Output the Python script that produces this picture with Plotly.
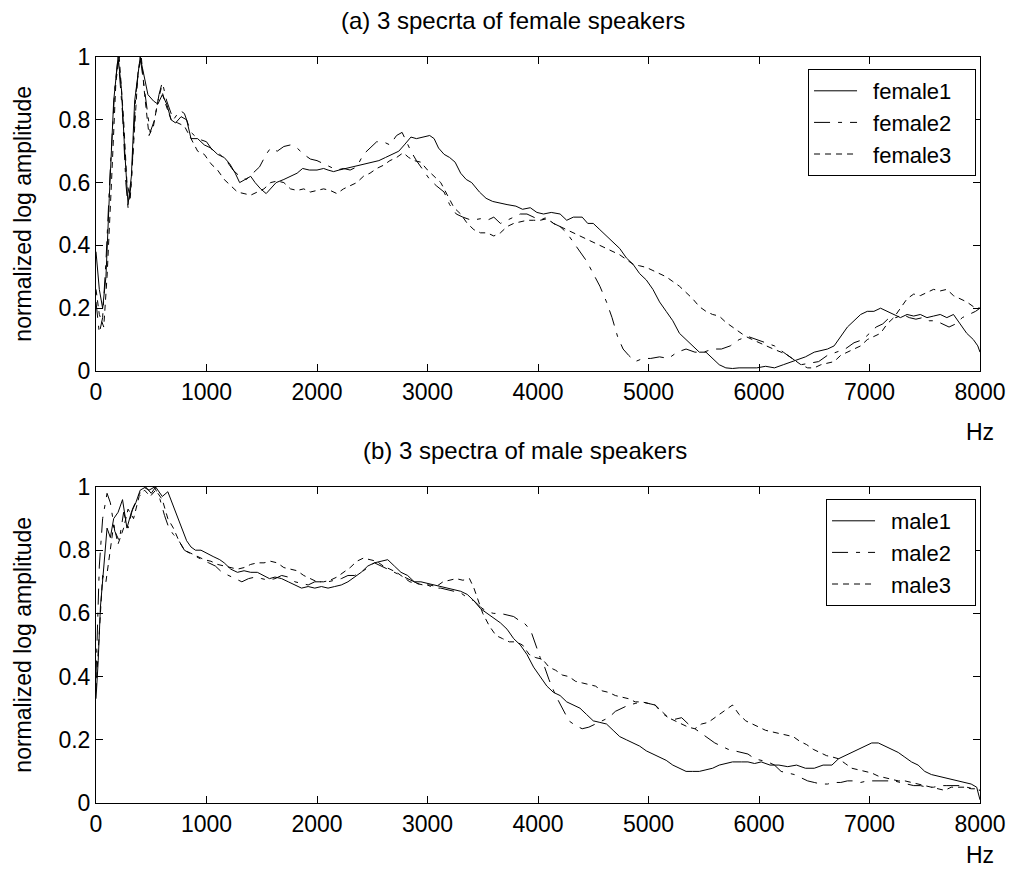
import plotly.graph_objects as go

# ---------------- data (Hz, normalized log amplitude) ----------------
female1 = [(0,0.38),(30,0.26),(60,0.2),(90,0.3),(120,0.55),(160,0.86),(200,1.0),(230,0.9),(260,0.7),(290,0.53),
 (320,0.62),(350,0.86),(400,1.0),(430,0.95),(470,0.88),(520,0.86),(560,0.85),(600,0.88),(640,0.85),(680,0.8),
 (720,0.79),(770,0.81),(820,0.8),(860,0.74),(920,0.74),(980,0.72),(1040,0.71),(1100,0.69),(1160,0.68),(1210,0.66),
 (1260,0.63),(1300,0.6),(1350,0.61),(1400,0.62),(1440,0.6),(1490,0.58),(1540,0.565),(1580,0.58),(1630,0.6),(1700,0.61),
 (1760,0.62),(1820,0.63),(1870,0.645),(1930,0.64),(2000,0.64),(2060,0.645),(2100,0.64),(2150,0.635),(2200,0.64),(2260,0.645),
 (2320,0.65),(2380,0.655),(2440,0.66),(2500,0.665),(2560,0.67),(2620,0.68),(2680,0.69),(2740,0.7),(2790,0.72),(2850,0.745),
 (2900,0.74),(2960,0.745),(3020,0.75),(3060,0.74),(3100,0.71),(3150,0.69),(3200,0.68),(3250,0.665),(3300,0.63),(3350,0.61),
 (3400,0.6),(3470,0.57),(3530,0.55),(3590,0.54),(3650,0.535),(3720,0.53),(3800,0.525),(3860,0.515),(3930,0.52),(3990,0.505),
 (4050,0.5),(4120,0.505),(4200,0.5),(4260,0.48),(4320,0.49),(4400,0.49),(4450,0.47),(4500,0.47),(4560,0.45),(4620,0.43),
 (4680,0.41),(4740,0.39),(4800,0.36),(4860,0.34),(4920,0.31),(4980,0.29),(5040,0.26),(5100,0.22),(5160,0.19),(5220,0.16),
 (5280,0.12),(5340,0.1),(5400,0.08),(5460,0.06),(5520,0.06),(5580,0.04),(5640,0.02),(5700,0.01),(5760,0.008),(5820,0.01),
 (5900,0.01),(5980,0.01),(6060,0.015),(6140,0.01),(6220,0.02),(6300,0.03),(6360,0.035),(6420,0.045),(6500,0.06),(6560,0.065),
 (6620,0.07),(6680,0.08),(6740,0.11),(6800,0.14),(6860,0.16),(6920,0.18),(6980,0.19),(7040,0.19),(7100,0.2),(7160,0.19),
 (7220,0.18),(7280,0.17),(7340,0.18),(7400,0.175),(7460,0.18),(7520,0.17),(7580,0.175),(7640,0.18),(7700,0.17),(7760,0.18),
 (7820,0.15),(7880,0.12),(7940,0.1),(7980,0.08),(8000,0.06)]

female2 = [(0,0.22),(30,0.12),(60,0.17),(90,0.35),(130,0.65),(170,0.9),(200,1.0),(240,0.82),(270,0.6),(290,0.52),
 (320,0.6),(360,0.88),(400,1.0),(440,0.9),(490,0.76),(530,0.8),(570,0.88),(600,0.92),(640,0.86),(700,0.8),
 (760,0.83),(800,0.82),(860,0.76),(920,0.74),(1000,0.73),(1060,0.7),(1120,0.69),(1180,0.67),(1240,0.64),(1300,0.62),
 (1360,0.61),(1420,0.63),(1480,0.65),(1540,0.69),(1580,0.71),(1640,0.7),(1700,0.715),(1760,0.72),(1820,0.71),(1880,0.69),
 (1940,0.675),(2000,0.67),(2060,0.66),(2120,0.65),(2180,0.64),(2240,0.645),(2300,0.64),(2360,0.65),(2420,0.69),(2480,0.71),
 (2540,0.73),(2600,0.73),(2660,0.72),(2720,0.75),(2770,0.76),(2810,0.73),(2850,0.7),(2900,0.67),(2960,0.64),(3020,0.61),
 (3080,0.59),(3150,0.57),(3200,0.53),(3260,0.5),(3320,0.49),(3400,0.48),(3480,0.485),(3540,0.48),(3600,0.49),(3660,0.47),
 (3720,0.48),(3780,0.49),(3840,0.5),(3900,0.5),(3960,0.49),(4020,0.48),(4080,0.49),(4140,0.47),(4200,0.46),(4260,0.44),
 (4320,0.41),(4380,0.38),(4440,0.35),(4500,0.31),(4560,0.27),(4620,0.22),(4670,0.17),(4720,0.11),(4770,0.07),(4820,0.05),
 (4880,0.03),(4950,0.04),(5020,0.04),(5100,0.045),(5180,0.04),(5260,0.06),(5340,0.07),(5420,0.06),(5500,0.06),(5580,0.07),
 (5660,0.07),(5740,0.08),(5820,0.1),(5900,0.11),(5980,0.1),(6060,0.09),(6140,0.08),(6220,0.06),(6300,0.04),(6380,0.02),
 (6460,0.025),(6540,0.03),(6620,0.05),(6700,0.06),(6780,0.07),(6860,0.09),(6940,0.1),(7000,0.12),(7060,0.14),(7120,0.15),
 (7180,0.17),(7240,0.17),(7300,0.18),(7360,0.17),(7420,0.165),(7480,0.17),(7540,0.16),(7600,0.16),(7660,0.15),(7720,0.14),
 (7780,0.15),(7840,0.17),(7900,0.18),(7960,0.19),(8000,0.2)]

female3 = [(0,0.26),(30,0.18),(70,0.14),(100,0.3),(140,0.6),(180,0.92),(210,1.0),(250,0.8),(280,0.6),(310,0.55),
 (340,0.72),(380,0.95),(410,1.0),(440,0.88),(480,0.75),(520,0.78),(560,0.86),(590,0.9),(630,0.85),(680,0.8),
 (740,0.79),(800,0.78),(860,0.74),(920,0.7),(980,0.69),(1040,0.66),(1100,0.64),(1160,0.61),(1220,0.59),(1280,0.57),
 (1340,0.565),(1400,0.56),(1460,0.57),(1520,0.58),(1580,0.6),(1640,0.605),(1700,0.6),(1760,0.58),(1820,0.575),(1880,0.58),
 (1940,0.57),(2000,0.575),(2060,0.58),(2120,0.575),(2180,0.565),(2240,0.58),(2300,0.59),(2360,0.6),(2420,0.62),(2480,0.63),
 (2540,0.645),(2600,0.655),(2660,0.67),(2720,0.68),(2780,0.695),(2830,0.68),(2880,0.67),(2940,0.665),(3000,0.64),(3060,0.62),
 (3120,0.6),(3180,0.56),(3240,0.52),(3300,0.5),(3360,0.47),(3420,0.45),(3480,0.44),(3540,0.44),(3600,0.43),(3660,0.44),
 (3720,0.46),(3780,0.47),(3840,0.475),(3900,0.48),(3960,0.48),(4020,0.48),(4080,0.485),(4140,0.47),(4200,0.46),(4260,0.45),
 (4320,0.44),(4380,0.43),(4440,0.42),(4500,0.41),(4560,0.4),(4620,0.39),(4680,0.38),(4740,0.37),(4800,0.355),(4860,0.34),
 (4920,0.335),(4980,0.33),(5040,0.32),(5100,0.31),(5160,0.3),(5220,0.285),(5280,0.27),(5340,0.25),(5400,0.23),(5460,0.205),
 (5520,0.19),(5580,0.18),(5640,0.175),(5700,0.155),(5760,0.14),(5820,0.125),(5880,0.11),(5940,0.1),(6000,0.09),(6060,0.08),
 (6130,0.07),(6200,0.06),(6260,0.05),(6320,0.035),(6380,0.02),(6440,0.01),(6500,0.01),(6560,0.02),(6620,0.025),(6680,0.03),
 (6740,0.05),(6800,0.06),(6860,0.07),(6920,0.08),(6980,0.1),(7040,0.11),(7100,0.12),(7160,0.15),(7220,0.17),(7280,0.2),
 (7340,0.23),(7400,0.245),(7460,0.24),(7520,0.25),(7580,0.26),(7640,0.255),(7700,0.26),(7760,0.24),(7820,0.23),(7880,0.22),
 (7940,0.205),(8000,0.2)]

male1 = [(0,0.33),(20,0.45),(40,0.62),(60,0.7),(80,0.8),(100,0.87),(130,0.84),(160,0.9),(200,0.92),(240,0.96),
 (280,0.87),(320,0.92),(360,0.95),(400,0.99),(450,1.0),(500,0.98),(540,1.0),(600,0.97),(650,0.985),(700,0.94),
 (740,0.9),(780,0.87),(820,0.83),(860,0.81),(900,0.8),(950,0.8),(1000,0.79),(1060,0.78),(1120,0.77),(1160,0.76),
 (1220,0.74),(1280,0.73),(1340,0.735),(1400,0.73),(1460,0.73),(1520,0.72),(1570,0.71),(1620,0.715),(1680,0.71),(1740,0.7),
 (1800,0.69),(1860,0.68),(1920,0.685),(1980,0.68),(2040,0.685),(2100,0.68),(2160,0.685),(2220,0.69),(2280,0.7),(2340,0.715),
 (2400,0.73),(2460,0.75),(2520,0.76),(2580,0.765),(2640,0.77),(2700,0.75),(2760,0.73),(2820,0.72),(2880,0.7),(2940,0.7),
 (3000,0.695),(3060,0.69),(3120,0.685),(3180,0.68),(3240,0.675),(3300,0.67),(3360,0.66),(3420,0.64),(3480,0.615),(3540,0.6),
 (3600,0.585),(3660,0.57),(3720,0.55),(3780,0.52),(3840,0.5),(3900,0.47),(3960,0.43),(4020,0.4),(4080,0.37),(4140,0.35),
 (4200,0.34),(4260,0.32),(4320,0.31),(4380,0.3),(4440,0.28),(4500,0.26),(4560,0.255),(4620,0.25),(4680,0.23),(4740,0.21),
 (4800,0.2),(4860,0.19),(4920,0.18),(4980,0.165),(5040,0.155),(5100,0.145),(5160,0.135),(5220,0.12),(5280,0.11),(5340,0.1),
 (5400,0.1),(5460,0.1),(5520,0.105),(5580,0.11),(5640,0.12),(5700,0.125),(5760,0.13),(5840,0.13),(5900,0.13),(5960,0.125),
 (6020,0.13),(6100,0.12),(6180,0.12),(6260,0.115),(6340,0.12),(6420,0.11),(6500,0.11),(6580,0.12),(6660,0.12),(6720,0.14),
 (6780,0.15),(6840,0.16),(6900,0.17),(6960,0.18),(7020,0.19),(7080,0.19),(7140,0.18),(7200,0.17),(7260,0.16),(7320,0.145),
 (7380,0.13),(7440,0.12),(7500,0.1),(7560,0.09),(7620,0.085),(7680,0.08),(7740,0.075),(7800,0.07),(7860,0.065),(7920,0.06),
 (7970,0.05),(8000,0.01)]

male2 = [(0,0.4),(30,0.75),(60,0.9),(100,0.98),(130,0.95),(170,0.86),(210,0.83),(250,0.92),(290,0.87),(330,0.93),
 (380,0.97),(430,1.0),(480,0.99),(530,1.0),(580,0.96),(620,0.91),(660,0.87),(700,0.85),(750,0.83),(800,0.8),
 (850,0.79),(900,0.78),(960,0.77),(1020,0.76),(1080,0.75),(1140,0.73),(1200,0.72),(1260,0.71),(1320,0.7),(1380,0.71),
 (1440,0.715),(1500,0.71),(1560,0.705),(1620,0.71),(1680,0.72),(1740,0.715),(1800,0.7),(1860,0.695),(1920,0.69),(1980,0.7),
 (2040,0.7),(2100,0.7),(2160,0.705),(2220,0.71),(2280,0.72),(2340,0.72),(2400,0.73),(2460,0.745),(2520,0.76),(2580,0.75),
 (2640,0.74),(2700,0.73),(2760,0.72),(2820,0.71),(2880,0.7),(2940,0.69),(3000,0.69),(3060,0.68),(3120,0.68),(3180,0.675),
 (3240,0.67),(3300,0.665),(3360,0.65),(3420,0.64),(3480,0.62),(3540,0.605),(3600,0.6),(3660,0.6),(3720,0.595),(3780,0.59),
 (3820,0.58),(3860,0.575),(3900,0.56),(3940,0.54),(3980,0.5),(4020,0.46),(4060,0.43),(4100,0.39),(4160,0.34),(4220,0.3),
 (4280,0.26),(4340,0.245),(4400,0.235),(4460,0.24),(4520,0.25),(4580,0.26),(4640,0.27),(4700,0.29),(4760,0.3),(4820,0.31),
 (4880,0.315),(4940,0.32),(5000,0.315),(5060,0.31),(5120,0.285),(5180,0.27),(5240,0.265),(5300,0.27),(5360,0.25),(5420,0.235),
 (5480,0.22),(5540,0.205),(5600,0.19),(5660,0.18),(5720,0.17),(5780,0.165),(5840,0.16),(5900,0.155),(5960,0.14),(6020,0.135),
 (6080,0.13),(6140,0.12),(6200,0.1),(6260,0.095),(6320,0.09),(6380,0.08),(6440,0.07),(6500,0.065),(6560,0.06),(6620,0.06),
 (6680,0.065),(6740,0.065),(6800,0.07),(6860,0.07),(6920,0.065),(6980,0.07),(7040,0.07),(7100,0.07),(7160,0.07),(7220,0.07),
 (7280,0.065),(7340,0.06),(7400,0.055),(7460,0.055),(7520,0.05),(7580,0.05),(7640,0.055),(7700,0.055),(7760,0.055),(7820,0.055),
 (7880,0.05),(7940,0.045),(8000,0.04)]

male3 = [(0,0.36),(30,0.55),(60,0.72),(90,0.7),(120,0.78),(160,0.88),(200,0.82),(250,0.87),(290,0.93),(340,0.9),
 (390,0.97),(440,0.99),(490,0.97),(540,0.99),(600,0.96),(650,0.9),(700,0.87),(750,0.83),(800,0.8),(860,0.79),
 (920,0.78),(980,0.77),(1040,0.765),(1100,0.755),(1160,0.75),(1220,0.745),(1280,0.74),(1340,0.745),(1400,0.755),(1460,0.76),
 (1520,0.76),(1580,0.765),(1640,0.76),(1700,0.745),(1760,0.74),(1820,0.735),(1880,0.72),(1940,0.71),(2000,0.7),(2060,0.7),
 (2120,0.705),(2180,0.715),(2240,0.73),(2300,0.745),(2360,0.765),(2420,0.775),(2480,0.77),(2540,0.765),(2600,0.75),(2660,0.74),
 (2720,0.73),(2780,0.715),(2840,0.7),(2900,0.695),(2960,0.69),(3020,0.69),(3080,0.685),(3140,0.7),(3200,0.705),(3260,0.71),
 (3320,0.705),(3380,0.71),(3420,0.68),(3460,0.64),(3500,0.6),(3560,0.56),(3620,0.53),(3680,0.52),(3740,0.51),(3800,0.51),
 (3860,0.5),(3920,0.47),(3980,0.46),(4040,0.455),(4100,0.43),(4160,0.42),(4220,0.405),(4280,0.4),(4340,0.385),(4400,0.38),
 (4460,0.375),(4520,0.37),(4580,0.355),(4640,0.35),(4700,0.34),(4760,0.335),(4820,0.33),(4880,0.32),(4940,0.32),(5000,0.315),
 (5060,0.31),(5120,0.29),(5180,0.27),(5240,0.26),(5300,0.25),(5360,0.24),(5420,0.235),(5480,0.25),(5540,0.255),(5600,0.27),
 (5660,0.285),(5720,0.3),(5760,0.31),(5820,0.28),(5880,0.26),(5940,0.25),(6000,0.24),(6060,0.23),(6120,0.225),(6180,0.22),
 (6250,0.215),(6310,0.21),(6370,0.195),(6430,0.185),(6490,0.17),(6550,0.16),(6610,0.15),(6670,0.145),(6720,0.14),(6780,0.125),
 (6840,0.11),(6900,0.105),(6960,0.1),(7020,0.095),(7080,0.085),(7140,0.08),(7200,0.075),(7260,0.07),(7320,0.07),(7380,0.065),
 (7440,0.06),(7500,0.055),(7560,0.05),(7620,0.045),(7680,0.04),(7740,0.05),(7800,0.05),(7860,0.05),(7920,0.045),(7980,0.045),
 (8000,0.04)]

x_ticks = [0, 1000, 2000, 3000, 4000, 5000, 6000, 7000, 8000]
y_ticks = [0, 0.2, 0.4, 0.6, 0.8, 1]
y_tick_labels = ["0", "0.2", "0.4", "0.6", "0.8", "1"]
title_a = "(a) 3 specrta of female speakers"
title_b = "(b) 3 spectra of male speakers"
x_unit = "Hz"
y_label = "normalized log amplitude"

# ---------------- figure ----------------
FONT = "Liberation Sans, Arial, Helvetica, sans-serif"
W, H = 1018, 871
L, R, T, B = 96, 30, 57, 68
PW, PH = W - L - R, H - T - B


def px_x(px):
    return (px - L) / PW


def px_y(py):
    return (H - B - py) / PH


styles = {
    "solid": "solid",
    "dashdot": "16px,8px,4px,8px",
    "dash": "6px,5px",
}

LEAD = "\u2002"          # gap between legend line sample and label
TRAIL = "\u00a0" * 3     # right padding inside legend box

fig = go.Figure()
series_top = [("female1", female1, "solid"), ("female2", female2, "dashdot"), ("female3", female3, "dash")]
series_bot = [("male1", male1, "solid"), ("male2", male2, "dashdot"), ("male3", male3, "dash")]

for name, data, st in series_top:
    fig.add_trace(go.Scatter(
        x=[p[0] for p in data], y=[p[1] for p in data], name=LEAD + name + TRAIL, mode="lines",
        line=dict(color="black", width=1, dash=styles[st]),
        xaxis="x", yaxis="y", legend="legend"))
for name, data, st in series_bot:
    fig.add_trace(go.Scatter(
        x=[p[0] for p in data], y=[p[1] for p in data], name=LEAD + name + TRAIL, mode="lines",
        line=dict(color="black", width=1, dash=styles[st]),
        xaxis="x2", yaxis="y2", legend="legend2"))

axis_common = dict(
    showgrid=False, zeroline=False, showline=True, linecolor="black", linewidth=1,
    mirror="ticks", ticks="inside", ticklen=7, tickcolor="black", tickwidth=1,
    tickfont=dict(family=FONT, size=23, color="black"),
)

top_dom = [px_y(371), 1.0]
bot_dom = [0.0, px_y(487)]

legend_common = dict(xanchor="right", yanchor="top", bordercolor="black", borderwidth=1,
                     bgcolor="white", itemwidth=43, tracegroupgap=0,
                     font=dict(family=FONT, size=22, color="black"))

fig.update_layout(
    width=W, height=H,
    margin=dict(l=L, r=R, t=T, b=B),
    paper_bgcolor="white", plot_bgcolor="white",
    font=dict(family=FONT, size=23, color="black"),
    xaxis=dict(domain=[0, 1], range=[0, 8000], tickvals=x_ticks, anchor="y", **axis_common),
    yaxis=dict(domain=top_dom, range=[0, 1], tickvals=y_ticks, ticktext=y_tick_labels, anchor="x", **axis_common),
    xaxis2=dict(domain=[0, 1], range=[0, 8000], tickvals=x_ticks, anchor="y2", **axis_common),
    yaxis2=dict(domain=bot_dom, range=[0, 1], tickvals=y_ticks, ticktext=y_tick_labels, anchor="x2", **axis_common),
    legend=dict(x=px_x(984), y=px_y(69), **legend_common),
    legend2=dict(x=px_x(984), y=px_y(499), **legend_common),
    showlegend=True,
)

ann_font = dict(family=FONT, size=23, color="black")
annotations = [
    dict(text=title_a, x=px_x(517), y=px_y(20), xref="paper", yref="paper",
         xanchor="center", yanchor="middle", showarrow=False, font=dict(family=FONT, size=24, color="black")),
    dict(text=title_b, x=px_x(529), y=px_y(450), xref="paper", yref="paper",
         xanchor="center", yanchor="middle", showarrow=False, font=dict(family=FONT, size=24, color="black")),
    dict(text=x_unit, x=px_x(988), y=px_y(432), xref="paper", yref="paper",
         xanchor="center", yanchor="middle", showarrow=False, font=ann_font),
    dict(text=x_unit, x=px_x(988), y=px_y(855), xref="paper", yref="paper",
         xanchor="center", yanchor="middle", showarrow=False, font=ann_font),
    dict(text=y_label, x=px_x(22), y=px_y(214), xref="paper", yref="paper", textangle=-90,
         xanchor="center", yanchor="middle", showarrow=False, font=ann_font),
    dict(text=y_label, x=px_x(22), y=px_y(645), xref="paper", yref="paper", textangle=-90,
         xanchor="center", yanchor="middle", showarrow=False, font=ann_font),
]
fig.update_layout(annotations=annotations)

fig.write_html("out.html")
